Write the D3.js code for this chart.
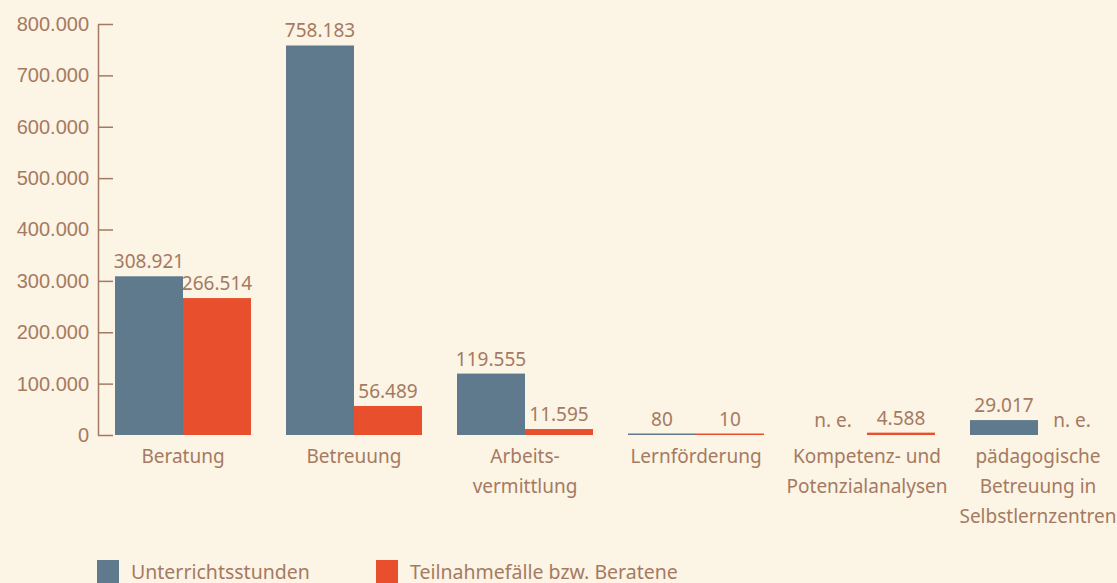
<!DOCTYPE html>
<html>
<head>
<meta charset="utf-8">
<script src="https://cdn.jsdelivr.net/npm/d3@7"></script>
<style>
  body { margin: 0; background: #fcf4e4; }
  svg { display: block; font-family: "Noto Sans", sans-serif; }
  .axis path, .axis line { stroke: #a57a62; stroke-width: 1.5; }
  .axis text { fill: #a57a62; font-size: 20px; }
  .lbl { fill: #a57a62; font-size: 19px; }
  .cat { font-size: 19px; }
</style>
</head>
<body>
<div id="chart"></div>
<script>
var categories = ["Beratung", "Betreuung", "Arbeits-\nvermittlung", "Lernförderung",
  "Kompetenz- und\nPotenzialanalysen", "pädagogische\nBetreuung in\nSelbstlernzentren"];
var unterricht = [308921, 758183, 119555, 80, null, 29017];
var teilnahme = [266514, 56489, 11595, 10, 4588, null];
var seriesNames = ["Unterrichtsstunden", "Teilnahmefälle bzw. Beratene"];
var yTicks = [0, 100000, 200000, 300000, 400000, 500000, 600000, 700000, 800000];

var svgWidth = 1117;
var svgHeight = 583;
var colors = ["#5e7a8c", "#e84f2c"];

var de = d3.formatLocale({decimal: ",", thousands: ".", grouping: [3], currency: ["", " €"]});
var fmt = de.format(",d");

var svg = d3.select("#chart")
  .append("svg")
  .attr("width", svgWidth)
  .attr("height", svgHeight);

// scales
var x0 = d3.scaleBand()
  .domain(d3.range(categories.length))
  .range([98, 1123])
  .paddingInner(0.2047)
  .paddingOuter(0.0994);

var x1 = d3.scaleBand()
  .domain([0, 1])
  .range([0, x0.bandwidth()]);

var y = d3.scaleLinear()
  .domain([0, 800000])
  .range([435, 24]);

// y axis
var yAxis = d3.axisLeft(y)
  .tickValues(yTicks)
  .tickFormat(fmt)
  .tickSize(-15)
  .tickSizeOuter(0)
  .tickPadding(9);

svg.append("g")
  .attr("class", "axis")
  .attr("transform", "translate(98,0)")
  .call(yAxis);

// bars
var rows = categories.map(function(c, i) {
  return {i: i, vals: [unterricht[i], teilnahme[i]]};
});

var groups = svg.selectAll(".grp")
  .data(rows)
  .enter().append("g")
  .attr("class", "grp")
  .attr("transform", d => `translate(${x0(d.i)},0)`);

var cells = groups.selectAll(".cell")
  .data(d => d.vals.map((v, k) => ({k: k, v: v})))
  .enter();

cells.filter(d => d.v !== null).append("rect")
  .attr("x", d => x1(d.k))
  .attr("width", x1.bandwidth())
  .attr("y", d => Math.min(y(d.v), y(0) - 1.5))
  .attr("height", d => Math.max(y(0) - y(d.v), 1.5))
  .attr("fill", d => colors[d.k]);

cells.append("text")
  .attr("class", "lbl")
  .attr("text-anchor", "middle")
  .attr("x", d => x1(d.k) + x1.bandwidth() / 2)
  .attr("y", d => (d.v === null ? y(0) : Math.min(y(d.v), y(0) - 1.5)) - 8)
  .text(d => d.v === null ? "n. e." : fmt(d.v));

// category labels
svg.selectAll(".cat")
  .data(categories)
  .enter().append("text")
  .attr("class", "lbl cat")
  .attr("text-anchor", "middle")
  .attr("x", (d, i) => x0(i) + x0.bandwidth() / 2)
  .attr("y", 463)
  .each(function(d) {
    var t = d3.select(this);
    d.split("\n").forEach(function(line, j) {
      t.append("tspan")
        .attr("x", t.attr("x"))
        .attr("dy", j === 0 ? 0 : 30)
        .text(line);
    });
  });

// legend
var legendX = [97, 376];
var legend = svg.selectAll(".leg")
  .data(seriesNames)
  .enter().append("g")
  .attr("class", "leg")
  .attr("transform", (d, i) => `translate(${legendX[i]},560)`);

legend.append("rect")
  .attr("width", 22)
  .attr("height", 23)
  .attr("fill", (d, i) => colors[i]);

legend.append("text")
  .attr("class", "lbl")
  .attr("x", 34)
  .attr("y", 19)
  .style("font-size", "19.5px")
  .text(d => d);
</script>
</body>
</html>
